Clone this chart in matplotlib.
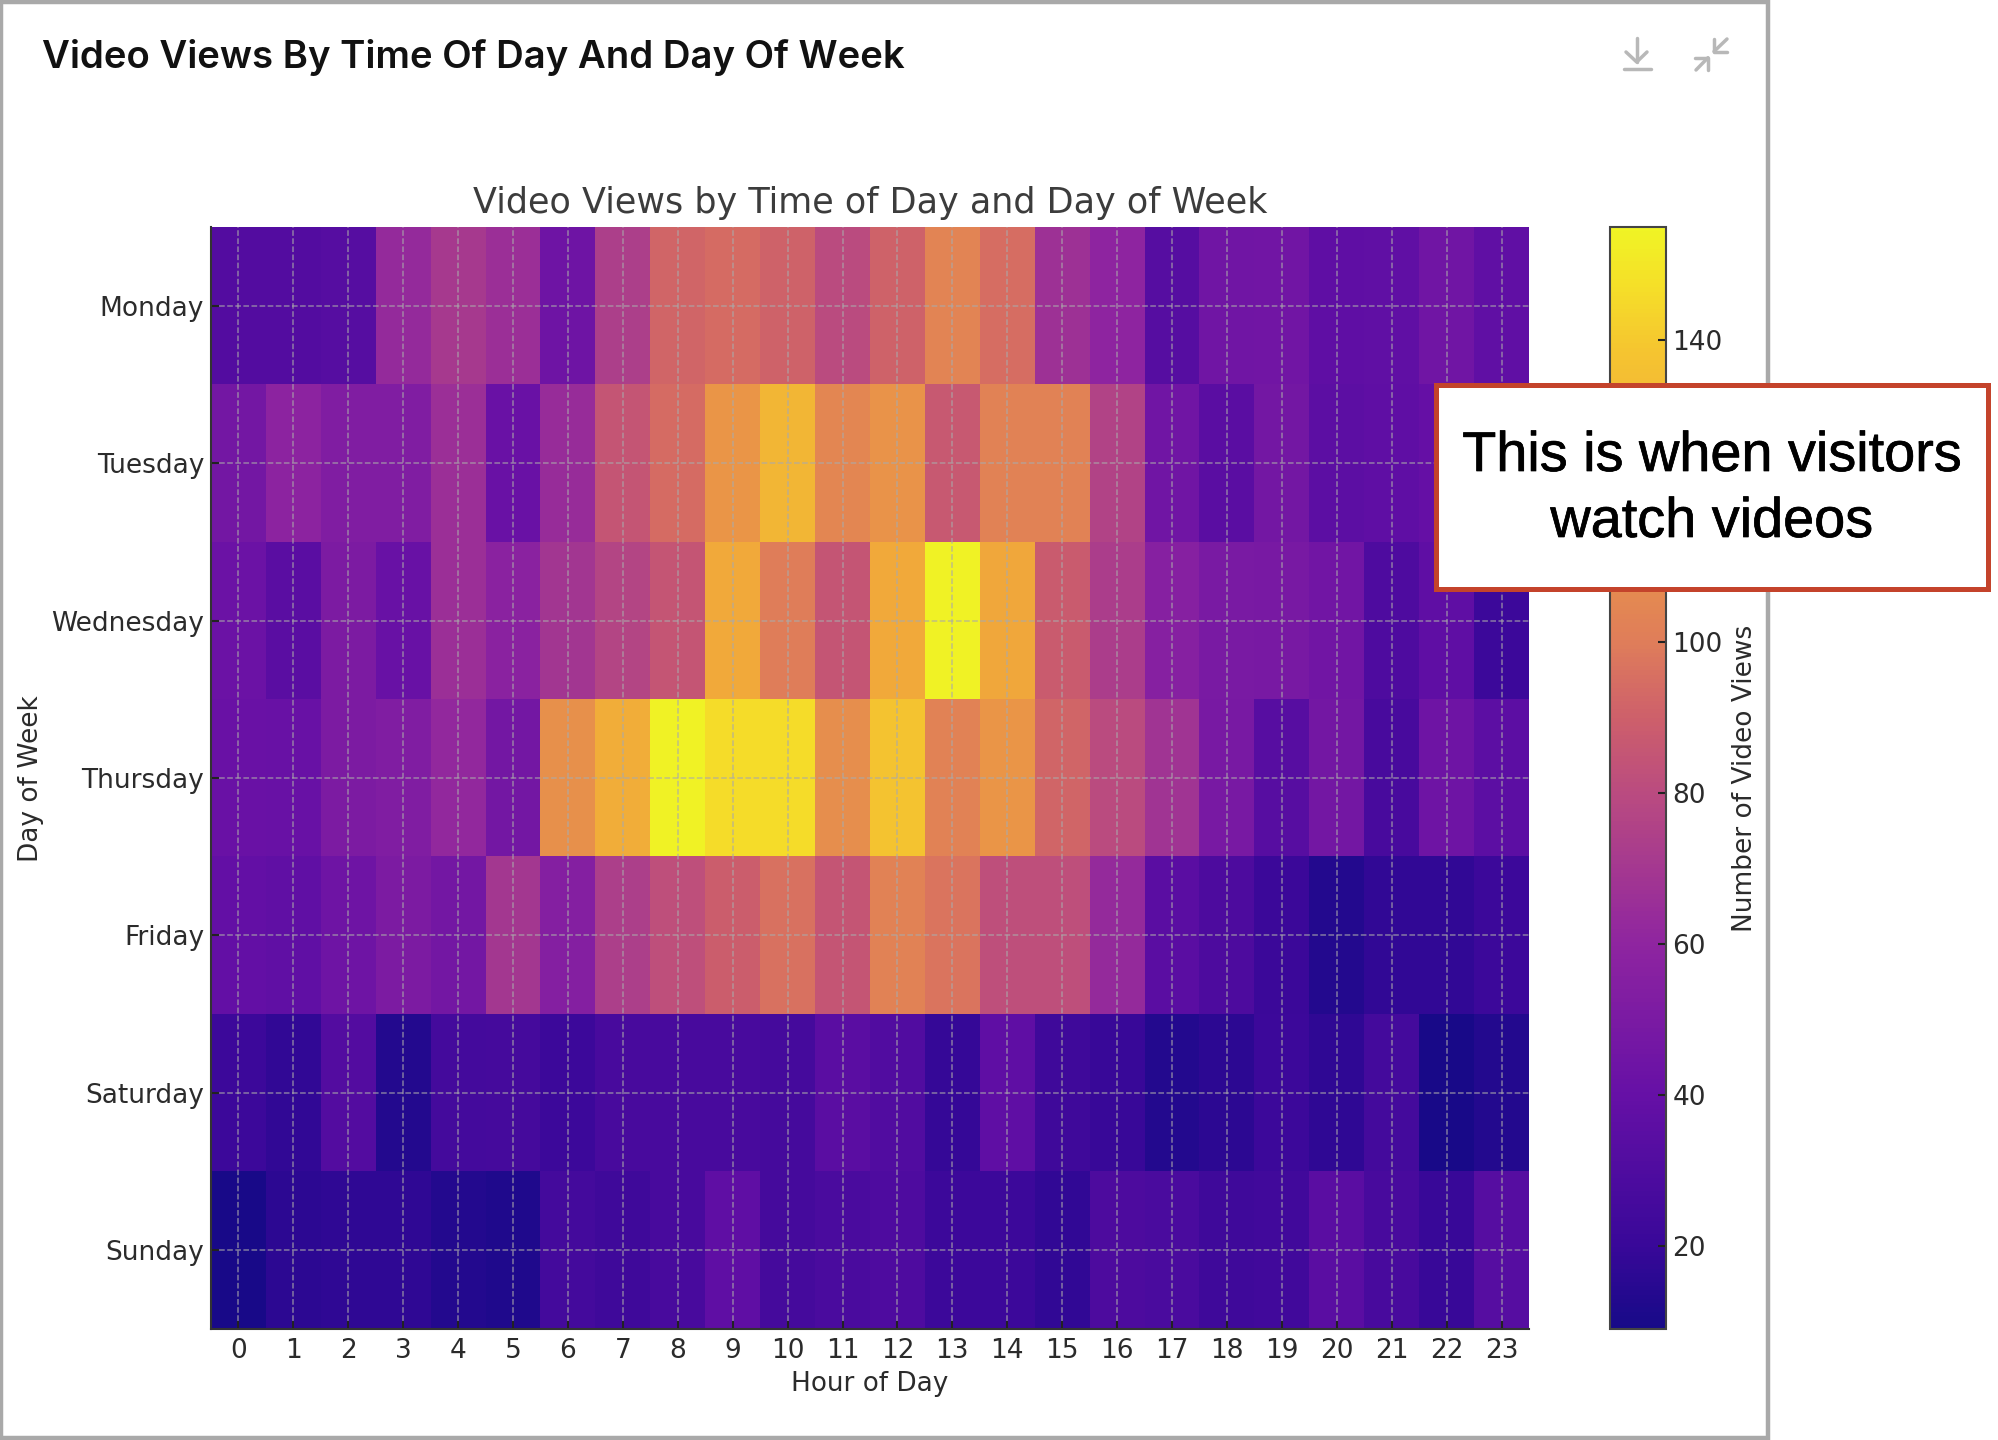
import matplotlib
matplotlib.use("Agg")
import matplotlib.pyplot as plt
import matplotlib.patheffects as pe
from matplotlib.colors import LinearSegmentedColormap
from matplotlib.patches import Rectangle

# values, row per day, column per hour (Tue 22/23 sit under the callout)
days = ["Monday", "Tuesday", "Wednesday", "Thursday", "Friday", "Saturday", "Sunday"]
hours = list(range(24))
monday = [32, 32, 33, 63, 71, 66, 44, 74, 92, 94, 91, 80, 91, 104, 95, 67, 60, 33, 45, 46, 37, 38, 45, 38]
tuesday = [47, 59, 53, 53, 66, 42, 64, 85, 94, 113, 131, 105, 112, 87, 103, 103, 76, 45, 35, 47, 36, 37, 40, 38]
wednesday = [43, 35, 51, 41, 66, 58, 69, 77, 85, 124, 100, 85, 124, 154, 123, 88, 73, 56, 50, 49, 46, 30, 37, 22]
thursday = [42, 41, 51, 53, 62, 47, 110, 126, 154, 146, 146, 109, 138, 103, 113, 92, 80, 68, 49, 34, 47, 27, 44, 36]
friday = [39, 38, 44, 51, 47, 70, 55, 74, 82, 89, 96, 85, 103, 97, 82, 82, 63, 35, 29, 21, 13, 18, 18, 22]
saturday = [22, 18, 32, 13, 25, 26, 22, 27, 27, 27, 26, 35, 31, 19, 37, 23, 20, 13, 16, 22, 17, 25, 10, 13]
sunday = [10, 16, 17, 17, 13, 12, 25, 23, 27, 37, 26, 28, 30, 22, 22, 18, 29, 28, 23, 24, 35, 27, 20, 33]
views = [monday, tuesday, wednesday, thursday, friday, saturday, sunday]
cbar_ticks = [20, 40, 60, 80, 100, 120, 140]

# plasma as it looks in the screenshot, a bit paler than the stock one
cmap_stops = [(0.0, "#170a88"), (0.075, "#390899"), (0.212, "#6610a6"), (0.35, "#8f25a0"),
              (0.486, "#ba4b80"), (0.55, "#cc5e6c"), (0.58, "#d46a65"), (0.623, "#df7d5a"),
              (0.76, "#f0a23e"), (0.89, "#f5c530"), (0.95, "#f5e028"), (1.0, "#f0f425")]
screen_plasma = LinearSegmentedColormap.from_list("screen_plasma", cmap_stops)

W, H = 1999, 1440
TXT = "#2b2b2b"
FRAME = "#a9a9a9"
ICON = "#b8b8b8"


def px_axes(fig, x0, y0, x1, y1):
    # axes from pixel box, y counted from the top
    return fig.add_axes([x0 / W, 1 - y1 / H, (x1 - x0) / W, (y1 - y0) / H])


fig = plt.figure(figsize=(W / 100, H / 100), dpi=100, facecolor="white")

# - Heatmap - #
ax = px_axes(fig, 211, 227, 1529, 1329)
im = ax.imshow(views, cmap=screen_plasma, aspect="auto", vmin=9, vmax=155, interpolation="nearest")
ax.set_xticks(hours)
ax.set_xticklabels(hours)
ax.set_yticks(range(len(days)))
ax.set_yticklabels(days)
ax.tick_params(axis="x", direction="in", length=6, width=1.5, color="#222222",
               labelsize=19, labelcolor=TXT, pad=6.5)
ax.tick_params(axis="y", direction="in", length=6, width=1.5, color="#222222",
               labelsize=19, labelcolor=TXT, pad=5)
ax.grid(True, linestyle="--", color="#aaaaaa", linewidth=1.1, alpha=0.7)
for side in ["top", "right"]:
    ax.spines[side].set_visible(False)
for side in ["left", "bottom"]:
    ax.spines[side].set_color("#333333")
    ax.spines[side].set_linewidth(1.5)
ax.set_title("Video Views by Time of Day and Day of Week", fontsize=25.2, color="#3c3c3c", pad=10)
ax.set_xlabel("Hour of Day", fontsize=18.9, color=TXT, labelpad=5)
fig.text(31 / W, 1 - 779 / H, "Day of Week", rotation=90, fontsize=19, color=TXT,
         ha="center", va="center")

# - Colorbar - #
cax = px_axes(fig, 1610, 227, 1666, 1329)
cbar = fig.colorbar(im, cax=cax)
cbar.set_ticks(cbar_ticks)
cbar.ax.tick_params(direction="in", length=6, width=1.5, color="#222222",
                    labelsize=19, labelcolor=TXT, pad=4.5)
cbar.outline.set_edgecolor("#444444")
cbar.outline.set_linewidth(1.5)
fig.text(1745 / W, 1 - 778 / H, "Number of Video Views", rotation=90, fontsize=19, color=TXT,
         ha="center", va="center")

# - Overlay in pixel coords: frame, header, icons, callout - #
over = fig.add_axes([0, 0, 1, 1], facecolor="none")
over.set_xlim(0, W)
over.set_ylim(H, 0)
over.axis("off")
over.add_patch(Rectangle((1.5, 1.5), 1767, 1436, fill=False, edgecolor=FRAME, linewidth=3.2))

over.text(42, 58, "Video Views By Time Of Day And Day Of Week", family="Inter", weight=600,
          fontsize=27.6, color="#111111", ha="left", va="center")

# download icon
icon_line = dict(color=ICON, lw=2.5, solid_capstyle="round", solid_joinstyle="round")
over.plot([1636.7, 1636.7], [38, 62], **icon_line)
over.plot([1626, 1636.7, 1647], [52, 62, 52], **icon_line)
over.plot([1624, 1651], [69, 69], **icon_line)
# collapse icon
over.plot([1714, 1714, 1727], [38.5, 51.5, 51.5], **icon_line)
over.plot([1714, 1727], [51.5, 39], **icon_line)
over.plot([1695, 1708, 1708], [57.7, 57.7, 70], **icon_line)
over.plot([1708, 1696], [57.7, 70], **icon_line)

over.add_patch(Rectangle((1436, 385), 552, 204, facecolor="white", edgecolor="#c4432b", linewidth=3.6))
bolder = [pe.withStroke(linewidth=0.5, foreground="black")]
over.text(1712, 457, "This is when visitors", family="Liberation Sans", fontsize=40.2,
          color="black", ha="center", va="center", path_effects=bolder)
over.text(1712, 523, "watch videos", family="Liberation Sans", fontsize=40.2,
          color="black", ha="center", va="center", path_effects=bolder)

fig.savefig("out.png", dpi=100)
